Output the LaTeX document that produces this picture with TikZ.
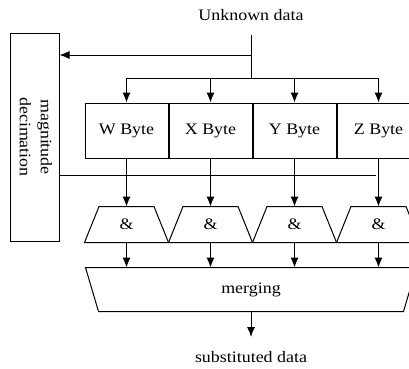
\documentclass[tikz,border=0pt]{standalone}
\usepackage{fontspec}
\setmainfont{Liberation Serif}[FakeStretch=1.12]
\usepackage{graphicx}
\usetikzlibrary{positioning,arrows.meta}

\begin{document}
\begin{tikzpicture}[x=1pt, y=-1pt, line width=1pt,
  font=\fontsize{16}{21}\selectfont,
  arr/.style={-{Latex[length=10pt,width=8pt]}},
  bytebox/.style={draw, minimum width=83pt, minimum height=55pt, inner sep=0pt},
  andgate/.style={minimum width=83pt, minimum height=35pt, inner sep=0pt},
  mergebox/.style={minimum width=330pt, minimum height=43pt, inner sep=0pt}]
  \clip (0,0) rectangle (409,368);
  % input and the decimation block
  \node (in) at (251,15) {Unknown data};
  \coordinate (top) at (251,35);
  \coordinate (split) at (251,55);
  \coordinate (fork) at (251,78);
  \node[draw, minimum width=49pt, minimum height=208pt, inner sep=0pt] (mag) at (34.5,137)
    {\rotatebox{-90}{\begin{tabular}{@{}c@{}}magnitude\\decimation\end{tabular}}};
  % byte registers
  \node[bytebox] (w) at (126.5,130.5) {W Byte};
  \node[bytebox, right=0pt of w] (x) {X Byte};
  \node[bytebox, right=0pt of x] (y) {Y Byte};
  \node[bytebox, right=0pt of y] (z) {Z Byte};
  % and gates
  \node[andgate, below=48pt of w] (aw) {\&};
  \node[andgate, below=48pt of x] (ax) {\&};
  \node[andgate, below=48pt of y] (ay) {\&};
  \node[andgate, below=48pt of z] (az) {\&};
  \draw ([xshift=14.5pt]aw.north west) -- ([xshift=-14.5pt]aw.north east) -- (aw.south east) -- (aw.south west) -- cycle;
  \draw ([xshift=14.5pt]ax.north west) -- ([xshift=-14.5pt]ax.north east) -- (ax.south east) -- (ax.south west) -- cycle;
  \draw ([xshift=14.5pt]ay.north west) -- ([xshift=-14.5pt]ay.north east) -- (ay.south east) -- (ay.south west) -- cycle;
  \draw ([xshift=14.5pt]az.north west) -- ([xshift=-14.5pt]az.north east) -- (az.south east) -- (az.south west) -- cycle;
  % merger
  \node[mergebox] (mrg) at (251,289.5) {merging};
  \draw (mrg.north west) -- (mrg.north east) -- ([xshift=-13pt]mrg.south east) -- ([xshift=13pt]mrg.south west) -- cycle;
  \coordinate (res) at (251,337);
  \node (out) at (251,357) {substituted data};
  \coordinate (ctl) at (375.5,175);
  % connections
  \draw (top) -- (fork);
  \draw[arr] (split) -- (mag.east |- split);
  \draw (w.north |- fork) -- (z.north |- fork);
  \draw[arr] (w.north |- fork) -- (w.north);
  \draw[arr] (x.north |- fork) -- (x.north);
  \draw[arr] (y.north |- fork) -- (y.north);
  \draw[arr] (z.north |- fork) -- (z.north);
  \draw (mag.east |- ctl) -- (ctl);
  \draw[arr] (w.south) -- (aw.north);
  \draw[arr] (x.south) -- (ax.north);
  \draw[arr] (y.south) -- (ay.north);
  \draw[arr] (z.south) -- (az.north);
  \draw[arr] (aw.south) -- (aw.south |- mrg.north);
  \draw[arr] (ax.south) -- (ax.south |- mrg.north);
  \draw[arr] (ay.south) -- (ay.south |- mrg.north);
  \draw[arr] (az.south) -- (az.south |- mrg.north);
  \draw[arr] (mrg.south) -- (res);
\end{tikzpicture}
\end{document}
